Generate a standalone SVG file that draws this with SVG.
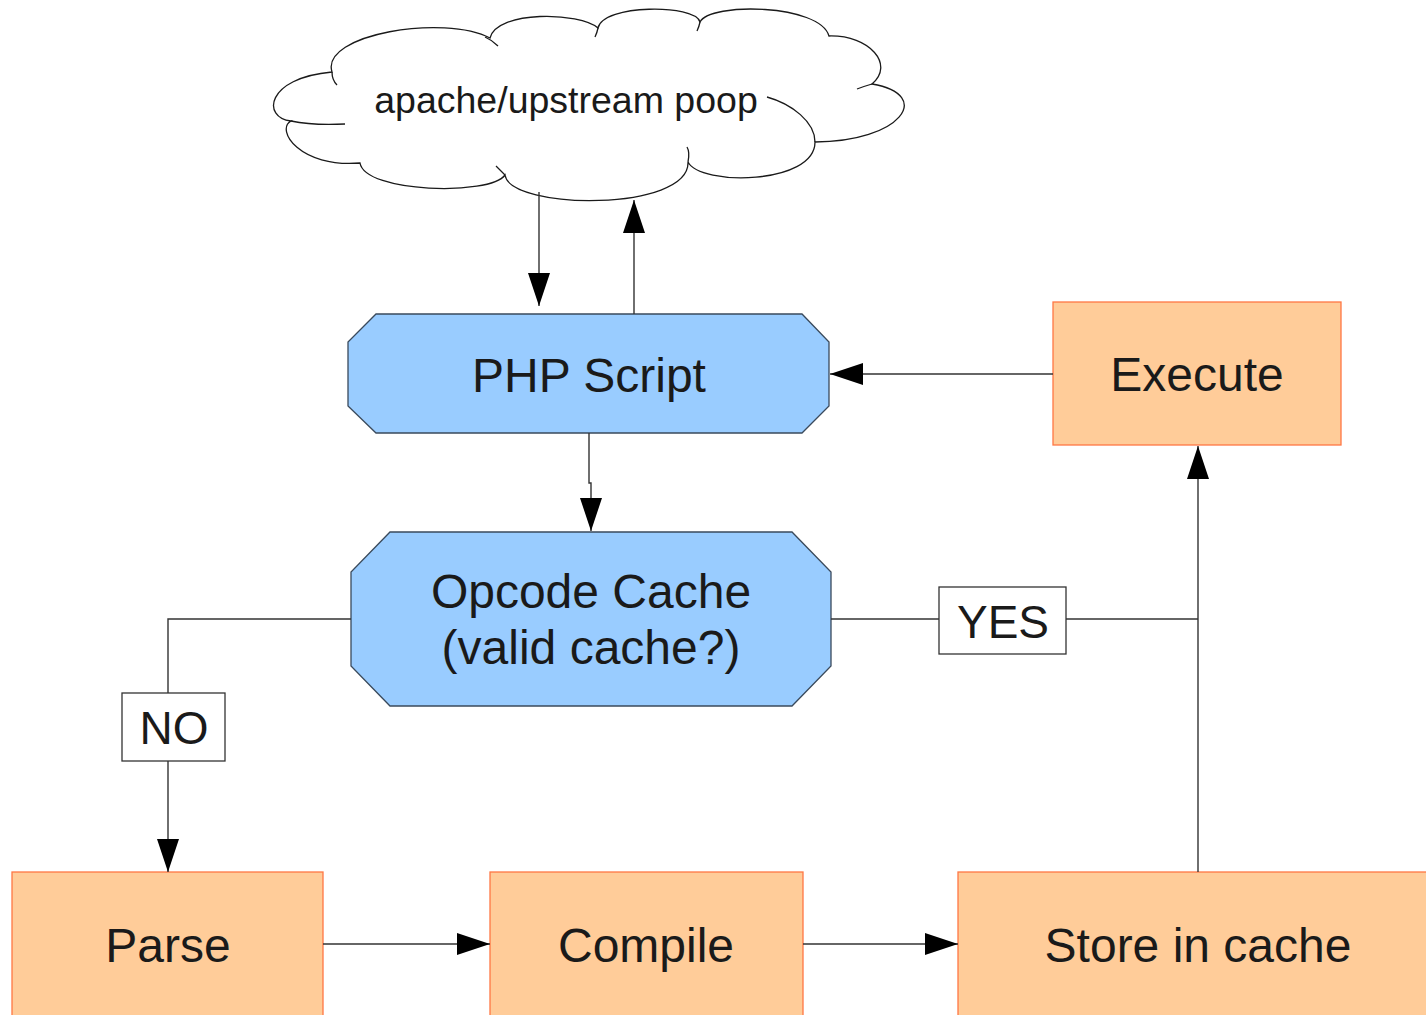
<svg xmlns="http://www.w3.org/2000/svg" width="1426" height="1015" viewBox="0 0 1426 1015">
<style>
.txt{font-family:"Liberation Sans",Arial,sans-serif;fill:#1a1a1a;text-anchor:middle}
.big{font-size:48px}
.oct{fill:#99ccff;stroke:#3a4a5c;stroke-width:1.3}
.box{fill:#ffcc99;stroke:#ff7744;stroke-width:1.3}
.lbl{fill:#ffffff;stroke:#333;stroke-width:1.3}
.cloud{fill:#ffffff;stroke:#1a1a1a;stroke-width:1.3}
.hook{fill:none;stroke:#1a1a1a;stroke-width:1.3}
.con{fill:none;stroke:#333;stroke-width:1.4}
</style>
<defs>
<marker id="arr" viewBox="0 0 33 22" markerWidth="33" markerHeight="22" refX="33" refY="11" orient="auto" markerUnits="userSpaceOnUse">
<path d="M0,0 L33,11 L0,22 Z" fill="#000"/>
</marker>
</defs>
<rect width="1426" height="1015" fill="#ffffff"/>

<g id="cloud">
<path class="cloud" d="M291,121 C262,118 265,78 332,72 C320,34 445,14 490,38 C497,10 580,12 598,28 C603,4 695,4 700,22 C710,2 820,4 829,36 C870,35 895,65 872,84 C935,95 900,142 815,142 C815,185 700,186 688,162 C690,212 510,210 505,175 C490,196 365,193 360,163 C300,168 275,130 291,121 Z"/>
<path class="hook" d="M291,121 C305,124 325,125 345,124"/>
<path class="hook" d="M332,72 Q332,80 337,85"/>
<path class="hook" d="M485,37 Q492,40 498,46"/>
<path class="hook" d="M598,28 Q597,33 595,37"/>
<path class="hook" d="M700,22 Q699,27 697,31"/>
<path class="hook" d="M872,84 Q865,86 857,89"/>
<path class="hook" d="M815,142 C815,122 792,104 767,97"/>
<path class="hook" d="M688,162 Q690,152 687,147"/>
<path class="hook" d="M505,175 Q500,170 496,166"/>
<text class="txt" x="566" y="113" font-size="37.5">apache/upstream poop</text>
</g>

<g id="php-script">
<polygon class="oct" points="376,314 802,314 829,342 829,406 802,433 376,433 348,406 348,342"/>
<text class="txt big" x="589" y="392">PHP Script</text>
</g>

<g id="opcode-cache">
<polygon class="oct" points="390,532 792,532 831,572 831,666 792,706 390,706 351,666 351,572"/>
<text class="txt big" x="591" y="608">Opcode Cache</text>
<text class="txt big" x="591" y="664">(valid cache?)</text>
</g>

<g id="execute">
<rect class="box" x="1053" y="302" width="288" height="143"/>
<text class="txt big" x="1197" y="391">Execute</text>
</g>

<g id="parse">
<rect class="box" x="12" y="872" width="311" height="150"/>
<text class="txt big" x="168" y="962">Parse</text>
</g>

<g id="compile">
<rect class="box" x="490" y="872" width="313" height="150"/>
<text class="txt big" x="646" y="962">Compile</text>
</g>

<g id="store-in-cache">
<rect class="box" x="958" y="872" width="475" height="150"/>
<text class="txt big" x="1198" y="962">Store in cache</text>
</g>

<g id="connectors">
<path class="con" d="M539,192 V306" marker-end="url(#arr)"/>
<path class="con" d="M634,314 V200" marker-end="url(#arr)"/>
<path class="con" d="M1053,374 H830" marker-end="url(#arr)"/>
<path class="con" d="M589,433 V483 H591 V531" marker-end="url(#arr)"/>
<path class="con" d="M351,619 H168 V693"/>
<path class="con" d="M168,761 V872" marker-end="url(#arr)"/>
<path class="con" d="M831,619 H939"/>
<path class="con" d="M1066,619 H1198"/>
<path class="con" d="M1198,872 V446" marker-end="url(#arr)"/>
<path class="con" d="M323,944 H490" marker-end="url(#arr)"/>
<path class="con" d="M803,944 H958" marker-end="url(#arr)"/>
</g>

<g id="label-no">
<rect class="lbl" x="122" y="693" width="103" height="68"/>
<text class="txt" x="174" y="744" font-size="46">NO</text>
</g>

<g id="label-yes">
<rect class="lbl" x="939" y="587" width="127" height="67"/>
<text class="txt" x="1003" y="638" font-size="46">YES</text>
</g>
</svg>
